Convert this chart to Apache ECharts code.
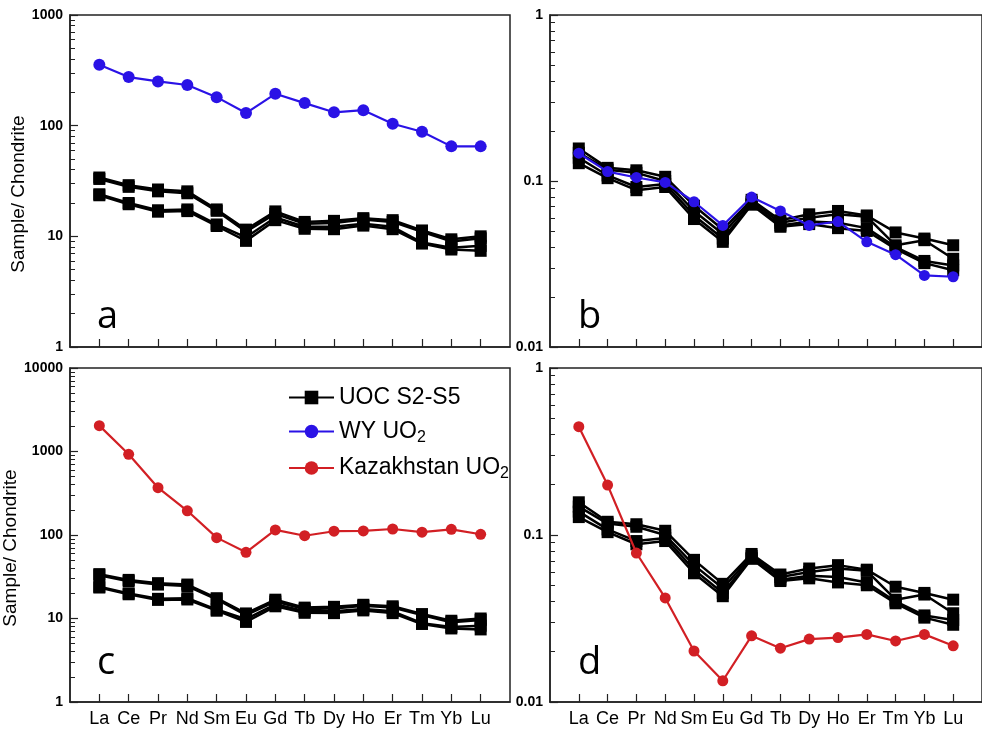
<!DOCTYPE html>
<html>
<head>
<meta charset="utf-8">
<script src="https://cdn.jsdelivr.net/npm/echarts@6/dist/echarts.min.js"></script>
<style>
html,body{margin:0;padding:0;background:#fff;}
#chart{width:982px;height:729px;}
</style>
</head>
<body>
<div id="chart"></div>
<script>
// ---- Data ----
const elements = ['La','Ce','Pr','Nd','Sm','Eu','Gd','Tb','Dy','Ho','Er','Tm','Yb','Lu'];

// Chondrite-normalised UOC samples (panels a and c)
const uocChondriteS2 = [34.0, 29.0, 26.5, 25.5, 17.5, 11.5, 16.8, 13.5, 13.8, 14.6, 14.0, 11.3, 9.4, 10.0];
const uocChondriteS3 = [33.0, 28.0, 25.5, 24.5, 17.0, 11.0, 16.0, 13.0, 13.2, 14.2, 13.5, 11.0, 9.0, 9.6];
const uocChondriteS4 = [24.0, 20.0, 17.2, 17.5, 12.8, 9.8, 14.8, 12.2, 12.2, 13.0, 12.2, 8.8, 7.9, 8.2];
const uocChondriteS5 = [23.5, 19.5, 16.7, 16.9, 12.4, 9.1, 14.0, 11.7, 11.6, 12.5, 11.6, 8.6, 7.6, 7.4];

// UOC samples, second normalisation (panels b and d)
const uocRatioS2 = [0.157, 0.120, 0.116, 0.106, 0.071, 0.051, 0.077, 0.058, 0.063, 0.066, 0.062, 0.049, 0.045, 0.041];
const uocRatioS3 = [0.148, 0.117, 0.112, 0.100, 0.066, 0.048, 0.075, 0.056, 0.060, 0.063, 0.061, 0.041, 0.044, 0.034];
const uocRatioS4 = [0.138, 0.108, 0.092, 0.096, 0.062, 0.045, 0.073, 0.054, 0.057, 0.056, 0.052, 0.040, 0.033, 0.031];
const uocRatioS5 = [0.128, 0.104, 0.088, 0.092, 0.059, 0.043, 0.072, 0.053, 0.055, 0.052, 0.050, 0.039, 0.032, 0.029];

// WY UO2
const wyChondrite = [355, 275, 251, 233, 181, 130, 194, 160, 132, 138, 104, 88, 65, 65];
const wyRatio = [0.147, 0.114, 0.105, 0.098, 0.075, 0.054, 0.080, 0.066, 0.054, 0.057, 0.043, 0.036, 0.027, 0.0265];

// Kazakhstan UO2
const kazChondrite = [2040, 925, 369, 195, 93, 62, 115, 98, 111, 112, 118, 108, 117, 102];
const kazRatio = [0.445, 0.199, 0.078, 0.042, 0.0202, 0.0134, 0.0249, 0.021, 0.0238, 0.0243, 0.0254, 0.0232, 0.0254, 0.0217];

const panelLetters = ['a', 'b', 'c', 'd'];
const yRanges = [[1, 1000], [0.01, 1], [1, 10000], [0.01, 1]];
const yAxisTitle = 'Sample/ Chondrite';
const legendNames = ['UOC S2-S5', 'WY UO2', 'Kazakhstan UO2'];

// ---- Build ----
const chart = echarts.init(document.getElementById('chart'), null, {renderer: 'canvas'});
const AXIS_COLOR = '#222';
const FONT = '"Liberation Sans", Arial, sans-serif';
const BLUE = '#2a12e6';
const RED = '#d21f24';

const grids = [
  {left: 70, top: 15, width: 440, height: 332},
  {left: 550, top: 15, width: 440, height: 332},
  {left: 70, top: 368, width: 440, height: 334},
  {left: 550, top: 368, width: 440, height: 334}
].map(g => Object.assign(g, {show: true, borderColor: AXIS_COLOR, borderWidth: 1.5, backgroundColor: 'transparent'}));

function minorValues(range) {
  const out = [];
  for (let e = Math.round(Math.log10(range[0])); e < Math.round(Math.log10(range[1])); e++) {
    for (let m = 2; m <= 9; m++) out.push(+(m * Math.pow(10, e)).toPrecision(6));
  }
  return out;
}

const xAxes = grids.map((g, i) => ({
  type: 'value', gridIndex: i, min: -1, max: 14, interval: 1, position: 'bottom',
  axisLine: {show: true, onZero: false, lineStyle: {color: AXIS_COLOR, width: 1.5}},
  axisTick: {show: true, inside: true, length: 8, lineStyle: {color: AXIS_COLOR, width: 1.2},
    customValues: elements.map((e, k) => k)},
  axisLabel: {show: i >= 2, margin: 8, fontSize: 18, color: '#000', fontFamily: FONT,
    customValues: elements.map((e, k) => k),
    formatter: v => elements[Math.round(v)] || ''},
  splitLine: {show: false}
}));

const yAxes = [];
grids.forEach((g, i) => {
  yAxes.push({
    type: 'log', logBase: 10, gridIndex: i, min: yRanges[i][0], max: yRanges[i][1], position: 'left',
    name: i % 2 === 0 ? yAxisTitle : '',
    nameLocation: 'middle', nameGap: 40, nameRotate: 90,
    nameTextStyle: {fontSize: 19, color: '#000', fontFamily: FONT, padding: [0, 26, 0, 0]},
    axisLine: {show: true, onZero: false, lineStyle: {color: AXIS_COLOR, width: 1.5}},
    axisTick: {show: true, inside: true, length: 8, lineStyle: {color: AXIS_COLOR, width: 1.2}},
    axisLabel: {margin: 7, fontSize: 14, fontWeight: 'bold', color: '#000', fontFamily: FONT,
      formatter: v => String(+(+v).toPrecision(6))},
    splitLine: {show: false}
  });
  yAxes.push({
    type: 'log', logBase: 10, gridIndex: i, min: yRanges[i][0], max: yRanges[i][1], position: 'left', offset: 0,
    axisLine: {show: false, onZero: false},
    axisTick: {show: true, inside: true, length: 5, lineStyle: {color: AXIS_COLOR, width: 1},
      customValues: minorValues(yRanges[i])},
    axisLabel: {show: false},
    splitLine: {show: false}
  });
});

function pts(arr) { return arr.map((v, k) => [k, v]); }

function uocSeries(arr, gi) {
  return {
    name: legendNames[0], type: 'line', xAxisIndex: gi, yAxisIndex: gi * 2,
    data: pts(arr), symbol: 'rect', symbolSize: 12,
    lineStyle: {color: '#000', width: 2.5}, itemStyle: {color: '#000'},
    z: 2, silent: true
  };
}
function dotSeries(name, arr, gi, color, size) {
  return {
    name: name, type: 'line', xAxisIndex: gi, yAxisIndex: gi * 2,
    data: pts(arr), symbol: 'circle', symbolSize: size,
    lineStyle: {color: color, width: 2.2}, itemStyle: {color: color},
    z: 3, silent: true
  };
}

const series = [];
[uocChondriteS2, uocChondriteS3, uocChondriteS4, uocChondriteS5].forEach(a => series.push(uocSeries(a, 0)));
[uocRatioS2, uocRatioS3, uocRatioS4, uocRatioS5].forEach(a => series.push(uocSeries(a, 1)));
[uocChondriteS2, uocChondriteS3, uocChondriteS4, uocChondriteS5].forEach(a => series.push(uocSeries(a, 2)));
[uocRatioS2, uocRatioS3, uocRatioS4, uocRatioS5].forEach(a => series.push(uocSeries(a, 3)));
series.push(dotSeries(legendNames[1], wyChondrite, 0, BLUE, 12));
series.push(dotSeries(legendNames[1], wyRatio, 1, BLUE, 11));
series.push(dotSeries(legendNames[2], kazChondrite, 2, RED, 11));
series.push(dotSeries(legendNames[2], kazRatio, 3, RED, 11));

const letterPos = [[97, 336], [578, 336], [97, 682], [578, 682]];
const graphics = panelLetters.map((t, i) => ({
  type: 'text', x: letterPos[i][0], y: letterPos[i][1], z: 10,
  style: {text: t, fontSize: 38, fontFamily: '"Open Sans", sans-serif', fill: '#000', verticalAlign: 'bottom', align: 'left'}
}));

chart.setOption({
  animation: false,
  backgroundColor: '#fff',
  grid: grids,
  xAxis: xAxes,
  yAxis: yAxes,
  series: series,
  graphic: graphics,
  legend: {
    data: legendNames, orient: 'vertical', left: 283, top: 381,
    itemWidth: 45, itemHeight: 17, itemGap: 11,
    selectedMode: false,
    textStyle: {fontSize: 23, color: '#000', fontFamily: FONT,
      rich: {sub: {fontSize: 16, fontFamily: FONT, color: '#000', padding: [12, 0, 0, 0]}}},
    formatter: n => n.replace('UO2', 'UO{sub|2}')
  }
});
</script>
</body>
</html>
